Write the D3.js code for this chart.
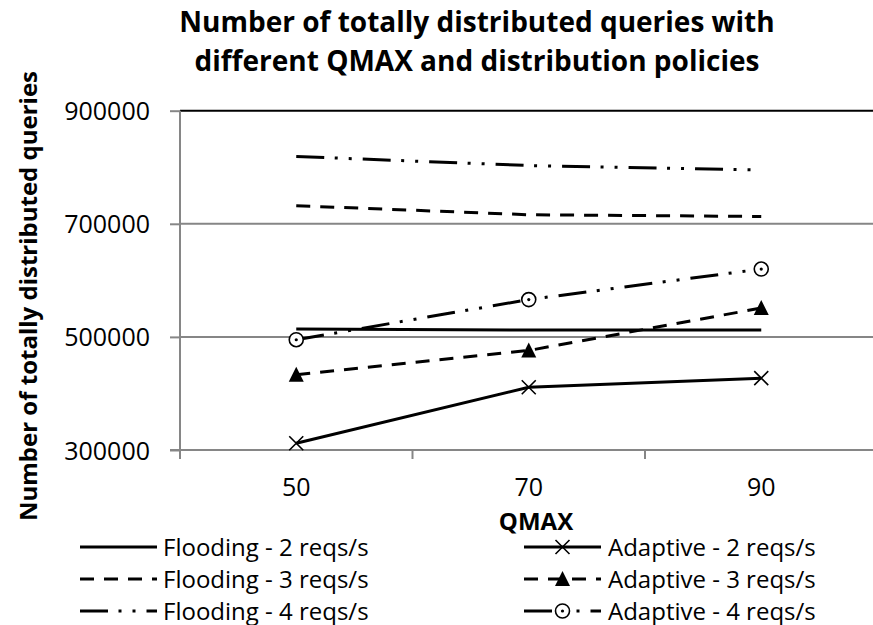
<!DOCTYPE html>
<html><head><meta charset="utf-8">
<script src="https://cdn.jsdelivr.net/npm/d3@7"></script>
<style>body{margin:0;background:#fff}svg{display:block}text{font-family:"Open Sans",sans-serif;fill:#000}</style>
</head><body><svg id="c" width="873" height="625"></svg>
<script>
// ---- data ----
const categories = [50, 70, 90];
const yTicks = [300000, 500000, 700000, 900000];
const seriesNames = ["Flooding - 2 reqs/s", "Flooding - 3 reqs/s", "Flooding - 4 reqs/s",
                     "Adaptive - 2 reqs/s", "Adaptive - 3 reqs/s", "Adaptive - 4 reqs/s"];
const flooding2 = [514000, 512000, 512000];
const flooding3 = [732000, 716000, 713000];
const flooding4 = [819000, 803000, 795000];
const adaptive2 = [312000, 411000, 427000];
const adaptive3 = [433000, 476000, 551000];
const adaptive4 = [495000, 566000, 620000];
const titleLines = ["Number of totally distributed queries with", "different QMAX and distribution policies"];
const xTitle = "QMAX";
const yTitle = "Number of totally distributed queries";

// ---- styles ----
const DASH = "14,10";
const LDD = "28,10.5,3,11,3,11";
const styles = [
  {dash: null, marker: null},
  {dash: DASH, marker: null},
  {dash: LDD, marker: null},
  {dash: null, marker: "x"},
  {dash: DASH, marker: "tri"},
  {dash: LDD, marker: "circ"}
];
const series = [flooding2, flooding3, flooding4, adaptive2, adaptive3, adaptive4]
  .map((vals, i) => ({name: seriesNames[i], values: vals, style: styles[i]}));

const svg = d3.select("#c");
const plot = {left: 180, right: 877.5, top: 110.7, bottom: 450};

const x = d3.scaleBand().domain(categories).range([plot.left, plot.right]).padding(0);
const cx = d => x(d) + x.bandwidth() / 2;
const y = d3.scaleLinear().domain([300000, 900000]).range([plot.bottom, plot.top]);

// gridlines
svg.append("g").selectAll("line").data(yTicks).join("line")
  .attr("x1", plot.left).attr("x2", plot.right)
  .attr("y1", d => y(d)).attr("y2", d => y(d))
  .attr("stroke", d => d === 900000 ? "#000" : "#868686")
  .attr("stroke-width", 2);

// y axis
const yAxis = svg.append("g").attr("transform", `translate(${plot.left},0)`)
  .call(d3.axisLeft(y).tickValues(yTicks).tickFormat(d3.format("d")).tickSize(10).tickPadding(20));
yAxis.select(".domain").remove();
yAxis.selectAll(".tick line").attr("stroke", "#868686").attr("stroke-width", 2);
yAxis.selectAll(".tick text").attr("font-size", 25).attr("font-family", "Open Sans").attr("fill", "#000").attr("dy", "0.36em");
svg.append("line").attr("x1", plot.left).attr("x2", plot.left)
  .attr("y1", plot.top).attr("y2", plot.bottom + 9).attr("stroke", "#868686").attr("stroke-width", 2);

// x axis
svg.append("line").attr("x1", plot.left - 10).attr("x2", plot.right)
  .attr("y1", plot.bottom).attr("y2", plot.bottom).attr("stroke", "#868686").attr("stroke-width", 2);
const edges = categories.map(c => x(c)).concat([plot.right]);
svg.append("g").selectAll("line").data(edges).join("line")
  .attr("x1", d => d).attr("x2", d => d)
  .attr("y1", plot.bottom).attr("y2", plot.bottom + 9)
  .attr("stroke", "#868686").attr("stroke-width", 2);
svg.append("g").selectAll("text").data(categories).join("text")
  .attr("x", d => cx(d)).attr("y", 496).attr("text-anchor", "middle")
  .attr("font-size", 25).text(d => d);

// titles
svg.append("text").attr("x", 536).attr("y", 530).attr("text-anchor", "middle")
  .attr("font-size", 24).attr("font-weight", "bold").text(xTitle);
svg.append("text").attr("transform", "translate(37,296) rotate(-90)").attr("text-anchor", "middle")
  .attr("font-size", 24).attr("font-weight", "bold").text(yTitle);
svg.append("g").selectAll("text").data(titleLines).join("text")
  .attr("x", 477).attr("y", (d, i) => 32 + i * 38.5).attr("text-anchor", "middle")
  .attr("font-size", 28).attr("font-weight", "bold").text(d => d);

// markers
function drawMarker(g, type, px, py) {
  if (type === "x") {
    g.append("path").attr("d", `M${px-7},${py-7}L${px+7},${py+7}M${px-7},${py+7}L${px+7},${py-7}`)
      .attr("stroke", "#000").attr("stroke-width", 1.6).attr("fill", "none");
  } else if (type === "tri") {
    g.append("path").attr("d", `M${px},${py-8}L${px+7.5},${py+7}L${px-7.5},${py+7}Z`).attr("fill", "#000");
  } else if (type === "circ") {
    g.append("circle").attr("cx", px).attr("cy", py).attr("r", 7).attr("fill", "#fff")
      .attr("stroke", "#000").attr("stroke-width", 1.6);
    g.append("circle").attr("cx", px).attr("cy", py).attr("r", 1.6).attr("fill", "#000");
  }
}

// lines
const line = d3.line().x((d, i) => cx(categories[i])).y(d => y(d));
const lg = svg.append("g");
series.forEach(s => {
  lg.append("path").datum(s.values).attr("d", line).attr("fill", "none")
    .attr("stroke", "#000").attr("stroke-width", 3)
    .attr("stroke-dasharray", s.style.dash);
});
series.forEach(s => {
  if (s.style.marker) s.values.forEach((v, i) => drawMarker(lg, s.style.marker, cx(categories[i]), y(v)));
});

// legend
const legendCols = [{x0: 80, x1: 157, tx: 163}, {x0: 524, x1: 601, tx: 608}];
const legendRows = [547, 579, 611];
series.forEach((s, i) => {
  const col = legendCols[Math.floor(i / 3)], ry = legendRows[i % 3];
  const g = svg.append("g");
  g.append("line").attr("x1", col.x0).attr("x2", col.x1).attr("y1", ry).attr("y2", ry)
    .attr("stroke", "#000").attr("stroke-width", 3).attr("stroke-dasharray", s.style.dash);
  if (s.style.marker) drawMarker(g, s.style.marker, (col.x0 + col.x1) / 2, ry);
  g.append("text").attr("x", col.tx).attr("y", ry + 8.5).attr("font-size", 24).text(s.name);
});
</script></body></html>
